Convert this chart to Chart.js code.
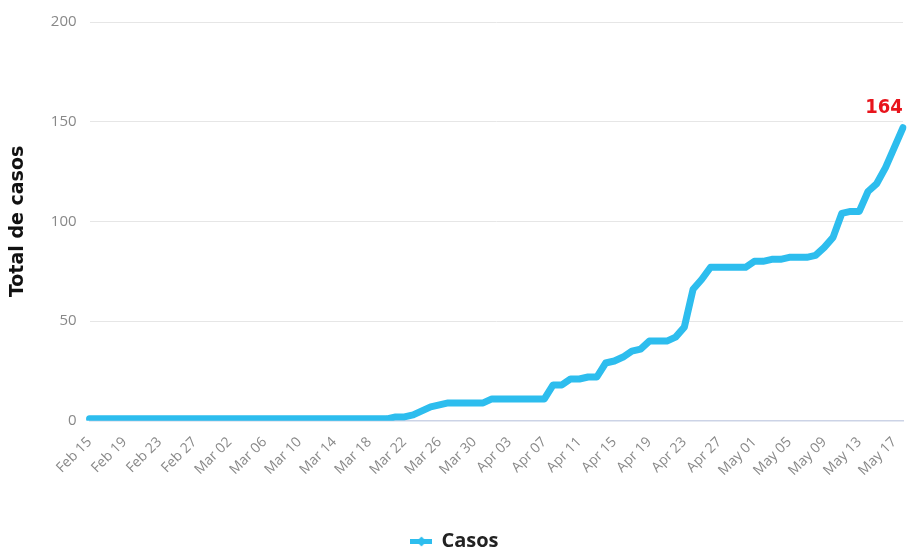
<!DOCTYPE html>
<html>
<head>
<meta charset="utf-8">
<script src="https://cdn.jsdelivr.net/npm/chart.js@4"></script>
<style>
  html, body { margin: 0; padding: 0; background: #fff; }
  #wrap { width: 921px; height: 555px; }
</style>
</head>
<body>
<div id="wrap"><canvas id="casos"></canvas></div>
<script>
// one label per day, Feb 15 -> May 18
const months = ["Feb", "Mar", "Apr", "May"];
const monthDays = [29, 31, 30, 31];
const startDay = 15;
const nDays = 94;

const casos = [
  1, 1, 1, 1, 1, 1, 1, 1, 1, 1,
  1, 1, 1, 1, 1, 1, 1, 1, 1, 1,
  1, 1, 1, 1, 1, 1, 1, 1, 1, 1,
  1, 1, 1, 1, 1, 2, 2, 3, 5, 7,
  8, 9, 9, 9, 9, 9, 11, 11, 11, 11,
  11, 11, 11, 18, 18, 21, 21, 22, 22, 29,
  30, 32, 35, 36, 40, 40, 40, 42, 47, 66,
  71, 77, 77, 77, 77, 77, 80, 80, 81, 81,
  82, 82, 82, 83, 87, 92, 104, 105, 105, 115,
  119, 127, 137, 147
];

const yTicks = [0, 50, 100, 150, 200];
const lastLabel = "164";

let labels = [];
let m = 0, d = startDay;
for (let i = 0; i < nDays; i++) {
  labels.push(months[m] + " " + String(d).padStart(2, "0"));
  d++;
  if (d > monthDays[m]) { d = 1; m++; }
}

// legend symbol: thick line with a marker
const sym = document.createElement("canvas");
sym.width = 22; sym.height = 12;
(function () {
  const c = sym.getContext("2d");
  c.fillStyle = "#2dbdee";
  c.fillRect(0, 4, 22, 5);
  c.beginPath();
  c.moveTo(6, 6.5); c.lineTo(11, 1.5); c.lineTo(16, 6.5); c.lineTo(11, 11.5);
  c.closePath();
  c.fill();
})();

const lastValue = {
  id: "lastValue",
  afterDatasetsDraw(chart) {
    const meta = chart.getDatasetMeta(0);
    const pt = meta.data[meta.data.length - 1];
    const ctx = chart.ctx;
    ctx.save();
    ctx.font = "bold 20px 'DejaVu Sans Condensed', 'DejaVu Sans', sans-serif";
    ctx.fillStyle = "#e8141c";
    ctx.textAlign = "center";
    ctx.textBaseline = "bottom";
    ctx.fillText(lastLabel, pt.x - 19, pt.y - 10);
    ctx.restore();
  }
};

new Chart(document.getElementById("casos"), {
  type: "line",
  data: {
    labels: labels,
    datasets: [
      {
        label: "Casos",
        data: casos,
        borderColor: "#2dbdee",
        backgroundColor: "#2dbdee",
        borderWidth: 7,
        pointRadius: 0,
        tension: 0,
        borderCapStyle: "round",
        borderJoinStyle: "round",
      },
    ],
  },
  plugins: [lastValue],
  options: {
    responsive: true,
    maintainAspectRatio: false,
    animation: false,
    layout: { padding: { top: 0, right: 18, left: 7, bottom: -6 } },
    scales: {
      x: {
        offset: false,
        grid: { display: false, drawTicks: false },
        border: { color: "#ccd3e6", width: 1.5 },
        afterFit: (axis) => { axis.height += 39; },
        ticks: {
          autoSkip: false,
          maxRotation: 45,
          minRotation: 45,
          padding: 13,
          color: "#888",
          font: { family: "'Open Sans', sans-serif", size: 14 },
          callback: function (val, idx) {
            return idx % 4 === 0 ? this.getLabelForValue(val) : null;
          },
        },
      },
      y: {
        min: 0,
        max: 200,
        afterBuildTicks: (axis) => { axis.ticks = yTicks.map((v) => ({ value: v })); },
        grid: { color: "#e6e6e6", drawTicks: false },
        border: { display: false },
        ticks: {
          padding: 13,
          color: "#888",
          font: { family: "'Open Sans', sans-serif", size: 15 },
        },
        title: {
          display: true,
          text: "Total de casos",
          color: "#111",
          padding: { top: 0, bottom: 8 },
          font: { family: "'DejaVu Sans', sans-serif", size: 19, weight: "bold" },
        },
      },
    },
    plugins: {
      legend: {
        position: "bottom",
        labels: {
          usePointStyle: true,
          pointStyle: sym,
          color: "#222",
          padding: 0,
          font: { family: "'Open Sans', sans-serif", size: 20, weight: "bold" },
        },
      },
      tooltip: { enabled: false },
    },
  },
});
</script>
</body>
</html>
